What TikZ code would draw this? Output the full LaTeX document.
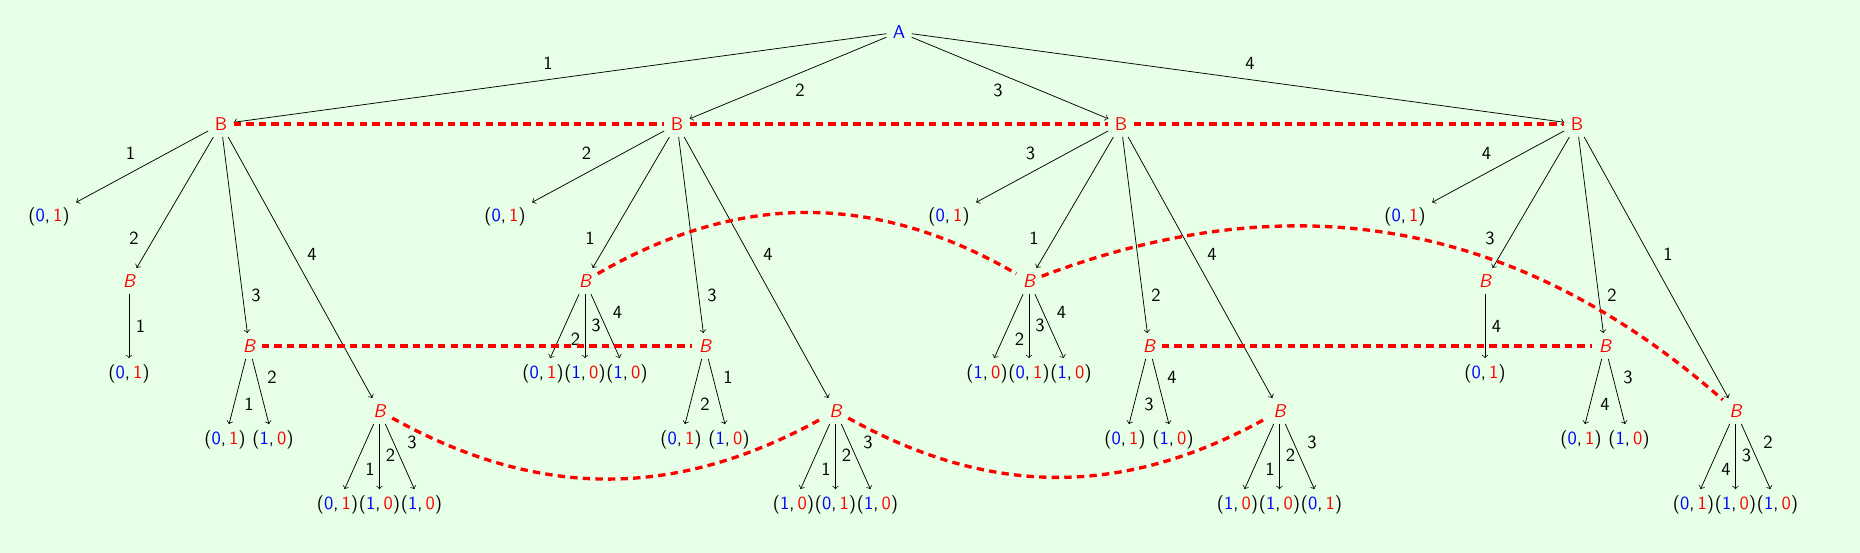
\documentclass[tikz,border=0pt]{standalone}
\usetikzlibrary{calc}
\definecolor{bg}{RGB}{230,255,230}
\newcommand{\pf}[2]{(\textcolor{blue}{#1},\,\textcolor{red}{#2})}
\tikzset{
  every node/.style={font=\sffamily},
  anode/.style={text=blue},
  bup/.style={text=red},
  bit/.style={text=red, font=\sffamily\itshape},
  leaf/.style={text=black},
  arr/.style={->, black},
  lbl/.style={text=black, inner sep=1pt},
  info/.style={red, line width=1.8pt, dash pattern=on 4pt off 2.8pt},
}
\begin{document}
\begin{tikzpicture}[x=0.54pt, y=-0.54pt]
\path[use as bounding box, fill=bg] (0,0) rectangle (1860,553);

% root and first level
\node[anode] (a) at (899,32) {A};
\node[bup] (b1) at (221,124) {B};
\node[bup] (b2) at (677,124) {B};
\node[bup] (b3) at (1121,124) {B};
\node[bup] (b4) at (1577,124) {B};
\draw[arr] (a) -- (b1) node[lbl] at ($(a)+(-351,31)$) {1};
\draw[arr] (a) -- (b2) node[lbl] at ($(a)+(-99,58)$) {2};
\draw[arr] (a) -- (b3) node[lbl] at ($(a)+(99,58)$) {3};
\draw[arr] (a) -- (b4) node[lbl] at ($(a)+(351,31)$) {4};

% ---------- tree 1 ----------
\node[leaf] (t1o) at (49,217) {\pf{0}{1}};
\node[bit] (t1p) at (129,281) {B};
\node[bit] (t1q) at (249,346) {B};
\node[bit] (t1r) at (379.5,411) {B};
\draw[arr] (b1) -- (t1o) node[lbl] at ($(b1)+(-90.5,29.3)$) {1};
\draw[arr] (b1) -- (t1p) node[lbl] at ($(b1)+(-87,114.3)$) {2};
\draw[arr] (b1) -- (t1q) node[lbl] at ($(b1)+(35,171)$) {3};
\draw[arr] (b1) -- (t1r) node[lbl] at ($(b1)+(91,130.3)$) {4};
\node[leaf] (t1p1) at (129,374) {\pf{0}{1}};
\draw[arr] (t1p) -- (t1p1) node[lbl] at ($(t1p)+(11.4,45)$) {1};
\node[leaf] (t1q1) at (225,440) {\pf{0}{1}};
\node[leaf] (t1q2) at (273,440) {\pf{1}{0}};
\draw[arr] (t1q) -- (t1q1) node[lbl] at ($(t1q)+(0,58)$) {1};
\draw[arr] (t1q) -- (t1q2) node[lbl] at ($(t1q)+(23,31)$) {2};
\node[leaf] (t1r1) at (337.5,505) {\pf{0}{1}};
\node[leaf] (t1r2) at (379.5,505) {\pf{1}{0}};
\node[leaf] (t1r3) at (421.5,505) {\pf{1}{0}};
\draw[arr] (t1r) -- (t1r1) node[lbl] at ($(t1r)+(-9.5,58)$) {1};
\draw[arr] (t1r) -- (t1r2) node[lbl] at ($(t1r)+(11,44.7)$) {2};
\draw[arr] (t1r) -- (t1r3) node[lbl] at ($(t1r)+(32.4,31)$) {3};

% ---------- tree 2 ----------
\node[leaf] (t2o) at (505,217) {\pf{0}{1}};
\node[bit] (t2p) at (585,281) {B};
\node[bit] (t2q) at (705,346) {B};
\node[bit] (t2r) at (835.5,411) {B};
\draw[arr] (b2) -- (t2o) node[lbl] at ($(b2)+(-90.5,29.3)$) {2};
\draw[arr] (b2) -- (t2p) node[lbl] at ($(b2)+(-87,114.3)$) {1};
\draw[arr] (b2) -- (t2q) node[lbl] at ($(b2)+(35,171)$) {3};
\draw[arr] (b2) -- (t2r) node[lbl] at ($(b2)+(91,130.3)$) {4};
\node[leaf] (t2p1) at (543,374) {\pf{0}{1}};
\node[leaf] (t2p2) at (585,374) {\pf{1}{0}};
\node[leaf] (t2p3) at (627,374) {\pf{1}{0}};
\draw[arr] (t2p) -- (t2p1) node[lbl] at ($(t2p)+(-9.5,58)$) {2};
\draw[arr] (t2p) -- (t2p2) node[lbl] at ($(t2p)+(11,44.7)$) {3};
\draw[arr] (t2p) -- (t2p3) node[lbl] at ($(t2p)+(32.4,31)$) {4};
\node[leaf] (t2q1) at (681,440) {\pf{0}{1}};
\node[leaf] (t2q2) at (729,440) {\pf{1}{0}};
\draw[arr] (t2q) -- (t2q1) node[lbl] at ($(t2q)+(0,58)$) {2};
\draw[arr] (t2q) -- (t2q2) node[lbl] at ($(t2q)+(23,31)$) {1};
\node[leaf] (t2r1) at (793.5,505) {\pf{1}{0}};
\node[leaf] (t2r2) at (835.5,505) {\pf{0}{1}};
\node[leaf] (t2r3) at (877.5,505) {\pf{1}{0}};
\draw[arr] (t2r) -- (t2r1) node[lbl] at ($(t2r)+(-9.5,58)$) {1};
\draw[arr] (t2r) -- (t2r2) node[lbl] at ($(t2r)+(11,44.7)$) {2};
\draw[arr] (t2r) -- (t2r3) node[lbl] at ($(t2r)+(32.4,31)$) {3};

% ---------- tree 3 ----------
\node[leaf] (t3o) at (949,217) {\pf{0}{1}};
\node[bit] (t3p) at (1029,281) {B};
\node[bit] (t3q) at (1149,346) {B};
\node[bit] (t3r) at (1279.5,411) {B};
\draw[arr] (b3) -- (t3o) node[lbl] at ($(b3)+(-90.5,29.3)$) {3};
\draw[arr] (b3) -- (t3p) node[lbl] at ($(b3)+(-87,114.3)$) {1};
\draw[arr] (b3) -- (t3q) node[lbl] at ($(b3)+(35,171)$) {2};
\draw[arr] (b3) -- (t3r) node[lbl] at ($(b3)+(91,130.3)$) {4};
\node[leaf] (t3p1) at (987,374) {\pf{1}{0}};
\node[leaf] (t3p2) at (1029,374) {\pf{0}{1}};
\node[leaf] (t3p3) at (1071,374) {\pf{1}{0}};
\draw[arr] (t3p) -- (t3p1) node[lbl] at ($(t3p)+(-9.5,58)$) {2};
\draw[arr] (t3p) -- (t3p2) node[lbl] at ($(t3p)+(11,44.7)$) {3};
\draw[arr] (t3p) -- (t3p3) node[lbl] at ($(t3p)+(32.4,31)$) {4};
\node[leaf] (t3q1) at (1125,440) {\pf{0}{1}};
\node[leaf] (t3q2) at (1173,440) {\pf{1}{0}};
\draw[arr] (t3q) -- (t3q1) node[lbl] at ($(t3q)+(0,58)$) {3};
\draw[arr] (t3q) -- (t3q2) node[lbl] at ($(t3q)+(23,31)$) {4};
\node[leaf] (t3r1) at (1237.5,505) {\pf{1}{0}};
\node[leaf] (t3r2) at (1279.5,505) {\pf{1}{0}};
\node[leaf] (t3r3) at (1321.5,505) {\pf{0}{1}};
\draw[arr] (t3r) -- (t3r1) node[lbl] at ($(t3r)+(-9.5,58)$) {1};
\draw[arr] (t3r) -- (t3r2) node[lbl] at ($(t3r)+(11,44.7)$) {2};
\draw[arr] (t3r) -- (t3r3) node[lbl] at ($(t3r)+(32.4,31)$) {3};

% ---------- tree 4 ----------
\node[leaf] (t4o) at (1405,217) {\pf{0}{1}};
\node[bit] (t4p) at (1485,281) {B};
\node[bit] (t4q) at (1605,346) {B};
\node[bit] (t4r) at (1735.5,411) {B};
\draw[arr] (b4) -- (t4o) node[lbl] at ($(b4)+(-90.5,29.3)$) {4};
\draw[arr] (b4) -- (t4p) node[lbl] at ($(b4)+(-87,114.3)$) {3};
\draw[arr] (b4) -- (t4q) node[lbl] at ($(b4)+(35,171)$) {2};
\draw[arr] (b4) -- (t4r) node[lbl] at ($(b4)+(91,130.3)$) {1};
\node[leaf] (t4p1) at (1485,374) {\pf{0}{1}};
\draw[arr] (t4p) -- (t4p1) node[lbl] at ($(t4p)+(11.4,45)$) {4};
\node[leaf] (t4q1) at (1581,440) {\pf{0}{1}};
\node[leaf] (t4q2) at (1629,440) {\pf{1}{0}};
\draw[arr] (t4q) -- (t4q1) node[lbl] at ($(t4q)+(0,58)$) {4};
\draw[arr] (t4q) -- (t4q2) node[lbl] at ($(t4q)+(23,31)$) {3};
\node[leaf] (t4r1) at (1693.5,505) {\pf{0}{1}};
\node[leaf] (t4r2) at (1735.5,505) {\pf{1}{0}};
\node[leaf] (t4r3) at (1777.5,505) {\pf{1}{0}};
\draw[arr] (t4r) -- (t4r1) node[lbl] at ($(t4r)+(-9.5,58)$) {4};
\draw[arr] (t4r) -- (t4r2) node[lbl] at ($(t4r)+(11,44.7)$) {3};
\draw[arr] (t4r) -- (t4r3) node[lbl] at ($(t4r)+(32.4,31)$) {2};

% ---------- information sets ----------
\draw[info] (b1) -- (b2);
\draw[info] (b2) -- (b3);
\draw[info] (b3) -- (b4);
\draw[info] (t2p) to[bend left=30] (t3p);
\draw[info] (t3p) to[bend left=31] (t4r);
\draw[info] (t1q) -- (t2q);
\draw[info] (t3q) -- (t4q);
\draw[info] (t1r) to[bend right=29] (t2r);
\draw[info] (t2r) to[bend right=29] (t3r);
\end{tikzpicture}
\end{document}
